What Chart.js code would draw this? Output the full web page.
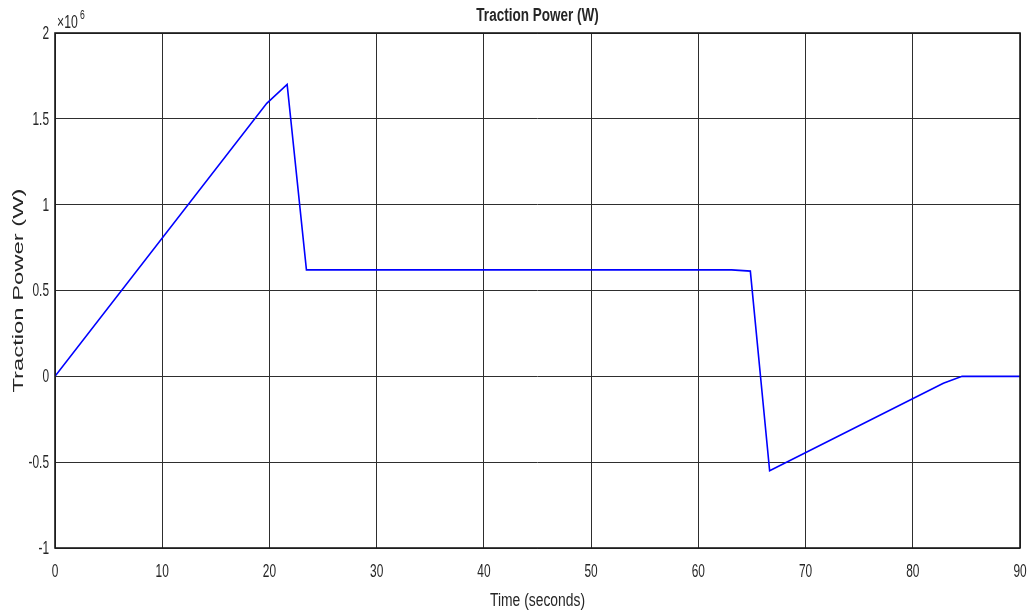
<!DOCTYPE html>
<html>
<head>
<meta charset="utf-8">
<script src="https://cdn.jsdelivr.net/npm/chart.js@4/dist/chart.umd.min.js"></script>
<style>
  html, body { margin: 0; padding: 0; background: #fff; }
  #wrap { width: 1030px; height: 615px; }
</style>
</head>
<body>
<div id="wrap"><canvas id="c" width="1030" height="615"></canvas></div>
<script>
// Traction power profile over a run: acceleration, cruise, braking, stop
const timeSec = [0, 19.75, 21.65, 23.45, 63.1, 64.85, 66.65, 82.85, 84.6, 90];
const powerW  = [0, 1.59e6, 1.70e6, 0.62e6, 0.62e6, 0.613e6, -0.55e6, -0.04e6, 0, 0];

const xTicks = [0, 10, 20, 30, 40, 50, 60, 70, 80, 90];
const xTickLabels = ['0', '10', '20', '30', '40', '50', '60', '70', '80', '90'];
const yTicks = [-1e6, -0.5e6, 0, 0.5e6, 1e6, 1.5e6, 2e6];
const yTickLabels = ['-1', '-0.5', '0', '0.5', '1', '1.5', '2'];
const yExponent = '6';

const chartTitle = 'Traction Power (W)';
const xTitle = 'Time (seconds)';
const yTitle = 'Traction Power (W)';

const points = timeSec.map((t, i) => ({ x: t, y: powerW[i] }));

const FONT = "'Liberation Sans', Arial, sans-serif";
const INK = '#262626';

// text squeezed or stretched along its own direction
function drawText(ctx, text, x, y, opts) {
  ctx.save();
  ctx.translate(x, y);
  if (opts.rotate) ctx.rotate(opts.rotate);
  ctx.scale(opts.sx || 1, 1);
  ctx.font = (opts.weight || 'normal') + ' ' + opts.size + 'px ' + FONT;
  ctx.fillStyle = opts.color || INK;
  ctx.textAlign = opts.align || 'left';
  ctx.textBaseline = opts.baseline || 'alphabetic';
  ctx.fillText(text, 0, 0);
  ctx.restore();
}

// frame, tick labels, titles and the axis multiplier note
const decorPlugin = {
  id: 'decor',
  afterDraw(chart) {
    const { ctx, chartArea: a, scales } = chart;
    const xs = scales.x, ys = scales.y;
    ctx.save();
    ctx.strokeStyle = '#1a1a1a';
    ctx.lineWidth = 1.6;
    ctx.strokeRect(a.left, a.top, a.right - a.left, a.bottom - a.top);
    ctx.restore();

    xTicks.forEach((v, i) => {
      drawText(ctx, xTickLabels[i], xs.getPixelForValue(v), a.bottom + 29,
        { size: 18, sx: 0.66, align: 'center' });
    });
    yTicks.forEach((v, i) => {
      drawText(ctx, yTickLabels[i], a.left - 6, ys.getPixelForValue(v) + 1,
        { size: 18, sx: 0.66, align: 'right', baseline: 'middle' });
    });

    drawText(ctx, '\u00D710', a.left + 2, a.top - 5, { size: 18, sx: 0.68 });
    drawText(ctx, yExponent, a.left + 25, a.top - 14, { size: 12, sx: 0.72 });

    const cx = (a.left + a.right) / 2;
    drawText(ctx, chartTitle, cx, 21, { size: 18, weight: 'bold', sx: 0.75, align: 'center' });
    drawText(ctx, xTitle, cx, 606, { size: 18, sx: 0.77, align: 'center' });
    drawText(ctx, yTitle, 23, (a.top + a.bottom) / 2,
      { size: 14, sx: 1.7, align: 'center', rotate: -Math.PI / 2 });
  }
};

new Chart(document.getElementById('c'), {
  type: 'line',
  data: {
    datasets: [{
      data: points,
      borderColor: '#0000ff',
      borderWidth: 1.6,
      pointRadius: 0,
      tension: 0,
      fill: false
    }]
  },
  options: {
    responsive: false,
    animation: false,
    devicePixelRatio: 1,
    layout: { padding: { left: 0, right: 10, top: 33, bottom: 0 } },
    plugins: {
      legend: { display: false },
      tooltip: { enabled: false },
      title: { display: false }
    },
    scales: {
      x: {
        type: 'linear',
        min: 0,
        max: 90,
        afterBuildTicks(scale) { scale.ticks = xTicks.map(v => ({ value: v })); },
        afterFit(scale) { scale.height = 67; scale.paddingLeft = 0; scale.paddingRight = 0; },
        grid: { color: '#2e2e2e', lineWidth: 1, drawTicks: false },
        border: { display: false },
        ticks: { display: false }
      },
      y: {
        min: -1e6,
        max: 2e6,
        afterBuildTicks(scale) { scale.ticks = yTicks.map(v => ({ value: v })); },
        afterFit(scale) { scale.width = 55; scale.paddingTop = 0; scale.paddingBottom = 0; },
        grid: { color: '#2e2e2e', lineWidth: 1, drawTicks: false },
        border: { display: false },
        ticks: { display: false }
      }
    }
  },
  plugins: [decorPlugin]
});
</script>
</body>
</html>
